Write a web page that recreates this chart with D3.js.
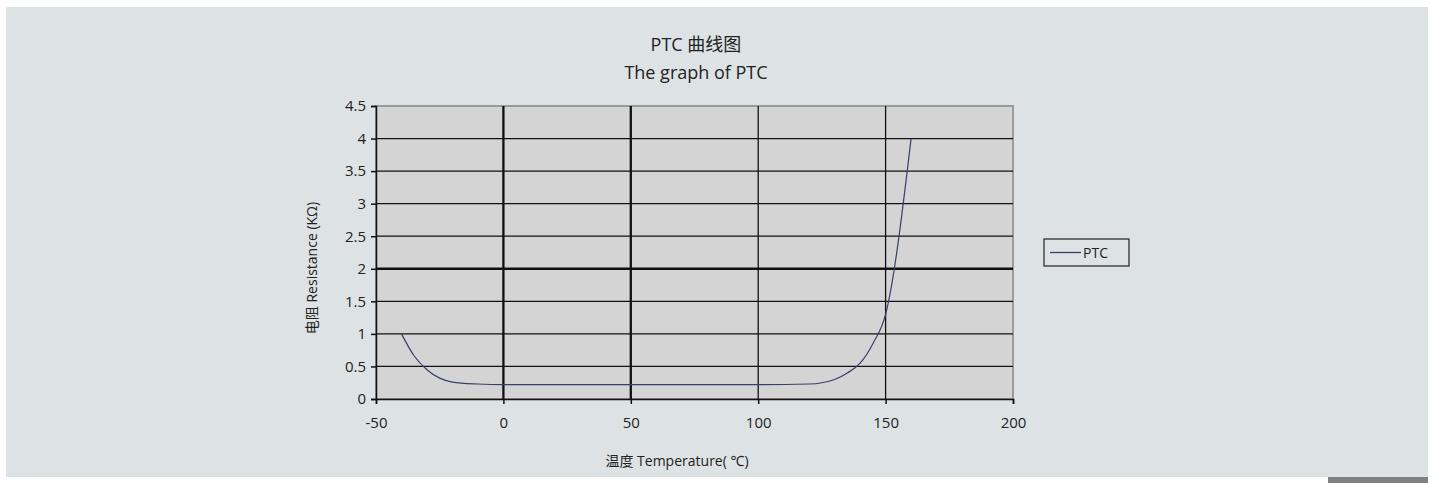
<!DOCTYPE html>
<html lang="zh">
<head>
<meta charset="UTF-8" />
<title>PTC 曲线图</title>
<script src="https://d3js.org/d3.v7.min.js"></script>
<style>
  html, body { margin: 0; padding: 0; background: #fff; }
  svg { display: block; }
  text { font-family: "Open Sans", "Noto Sans", "Noto Sans CJK SC", sans-serif; fill: #222; }
</style>
</head>
<body>
<svg width="1434" height="483"></svg>
<script>
  // données
  const temps = [-40, -35, -30, -25, -20, -10, 0, 20, 40, 60, 80, 100, 120, 125, 130, 135, 140, 145, 150, 160];
  const resist = [1.0, 0.66, 0.45, 0.32, 0.26, 0.23, 0.22, 0.22, 0.22, 0.22, 0.22, 0.22, 0.23, 0.25, 0.3, 0.4, 0.55, 0.85, 1.3, 4.0];
  const xTicks = [-50, 0, 50, 100, 150, 200];
  const yTicks = [0, 0.5, 1, 1.5, 2, 2.5, 3, 3.5, 4, 4.5];
  const seriesName = "PTC";

  const svg = d3.select("svg");
  const pLeft = 376, pRight = 1013, pTop = 106, pBottom = 399;

  // fond du panneau
  svg.append("rect").attr("x", 6).attr("y", 7).attr("width", 1422).attr("height", 470).attr("fill", "#dde2e5");
  svg.append("rect").attr("x", 1328).attr("y", 477).attr("width", 100).attr("height", 6).attr("fill", "#808080");

  const x = d3.scaleLinear().domain([-50, 200]).range([pLeft, pRight]);
  const y = d3.scaleLinear().domain([0, 4.5]).range([pBottom, pTop]);

  // zone du graphe
  svg.append("rect").attr("x", pLeft).attr("y", pTop).attr("width", pRight - pLeft).attr("height", pBottom - pTop)
    .attr("fill", "#d4d4d4").attr("stroke", "#9a9a9a").attr("stroke-width", 2);

  // grille horizontale
  svg.append("g").selectAll("line").data(yTicks.filter(d => d > 0 && d < 4.5)).join("line")
    .attr("x1", pLeft).attr("x2", pRight)
    .attr("y1", d => y(d)).attr("y2", d => y(d))
    .attr("stroke", "#111").attr("stroke-width", d => d === 2 ? 2.5 : 1.3);

  // grille verticale
  svg.append("g").selectAll("line").data(xTicks.filter(d => d > -50 && d < 200)).join("line")
    .attr("x1", d => x(d)).attr("x2", d => x(d))
    .attr("y1", pTop).attr("y2", pBottom)
    .attr("stroke", "#111").attr("stroke-width", d => (d === 0 || d === 50) ? 2.3 : 1.3);

  // axes
  const xAxis = svg.append("g").attr("transform", `translate(0,${pBottom})`)
    .call(d3.axisBottom(x).tickValues(xTicks).tickSize(5).tickPadding(13).tickFormat(d => String(d)));
  const yAxis = svg.append("g").attr("transform", `translate(${pLeft},0)`)
    .call(d3.axisLeft(y).tickValues(yTicks).tickSize(5).tickPadding(5).tickFormat(d => String(d)));
  [xAxis, yAxis].forEach(a => {
    a.select(".domain").attr("stroke", "#111").attr("stroke-width", 1.5);
    a.selectAll(".tick line").attr("stroke", "#111").attr("stroke-width", 1.5);
    a.selectAll(".tick text").style("font-size", "15px").attr("fill", "#222");
  });

  // courbe
  const data = temps.map((t, i) => ({ t: t, r: resist[i] }));
  svg.append("path").datum(data)
    .attr("fill", "none").attr("stroke", "#3a3f6a").attr("stroke-width", 1.2)
    .attr("d", d3.line().x(d => x(d.t)).y(d => y(d.r)).curve(d3.curveMonotoneX));

  // titres
  svg.append("text").attr("x", 696).attr("y", 51).attr("text-anchor", "middle").style("font-size", "18px").text("PTC 曲线图");
  svg.append("text").attr("x", 696).attr("y", 79).attr("text-anchor", "middle").style("font-size", "18px").text("The graph of PTC");
  svg.append("text").attr("x", 677).attr("y", 466).attr("text-anchor", "middle").style("font-size", "14px").text("温度 Temperature( ℃)");
  svg.append("text").attr("transform", "translate(317,268) rotate(-90)").attr("text-anchor", "middle")
    .style("font-size", "14px").text("电阻 Resistance (KΩ)");

  // légende
  const lg = svg.append("g").attr("transform", "translate(1044,239)");
  lg.append("rect").attr("width", 85).attr("height", 27).attr("fill", "none").attr("stroke", "#222").attr("stroke-width", 1.2);
  lg.append("line").attr("x1", 6).attr("x2", 37).attr("y1", 13.5).attr("y2", 13.5).attr("stroke", "#3a3f6a").attr("stroke-width", 1.3);
  lg.append("text").attr("x", 39).attr("y", 19).style("font-size", "14px").text(seriesName);
</script>
</body>
</html>
